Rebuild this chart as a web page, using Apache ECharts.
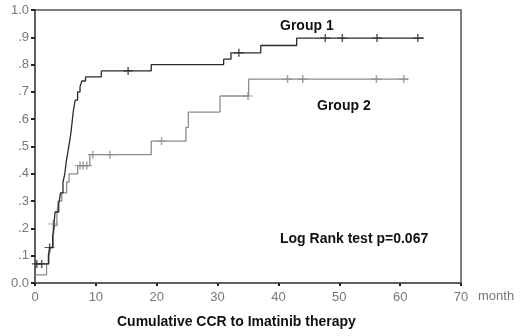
<!DOCTYPE html>
<html>
<head>
<meta charset="utf-8">
<script src="https://cdn.jsdelivr.net/npm/echarts@6/dist/echarts.min.js"></script>
<style>
  html, body { margin: 0; padding: 0; background: #fff; }
  #chart { width: 520px; height: 336px; }
</style>
</head>
<body>
<div id="chart"></div>
<script>
// Cumulative CCR curves (Kaplan-Meier style)
var xTicks = [0, 10, 20, 30, 40, 50, 60, 70];
var yLabels = ['0.0', '.1', '.2', '.3', '.4', '.5', '.6', '.7', '.8', '.9', '1.0'];

var group1Times  = [0, 2.2, 2.4, 2.9, 3.1, 3.3, 3.9, 4.2, 4.6, 4.9, 5.1, 5.4, 5.7, 5.9, 6.1, 6.3, 6.6, 7.0, 7.4, 7.7, 8.3, 10.9, 19.1, 31.0, 32.2, 37.1, 43.0, 63.9];
var group1Values = [.07, .10, .13, .17, .21, .26, .29, .33, .37, .40, .44, .48, .52, .55, .59, .63, .67, .70, .72, .74, .755, .777, .80, .82, .843, .87, .897, .897];
var group1CensorT = [0.3, 1.1, 2.4, 15.3, 33.5, 47.7, 50.5, 56.2, 62.9];
var group1CensorV = [.07, .07, .13, .777, .843, .897, .897, .897, .897];

var group2Times  = [0, 1.9, 2.3, 2.6, 3.0, 3.2, 3.6, 3.8, 4.4, 5.2, 5.6, 7.0, 9.0, 19.1, 24.8, 25.2, 30.4, 35.1, 61.3];
var group2Values = [.03, .07, .10, .13, .17, .21, .25, .30, .33, .37, .40, .43, .47, .52, .57, .626, .685, .747, .747];
var group2CensorT = [3.0, 7.4, 7.9, 8.5, 9.5, 12.3, 20.8, 35.0, 41.5, 44.0, 56.1, 60.6];
var group2CensorV = [.216, .43, .43, .43, .47, .47, .52, .685, .747, .747, .747, .747];

function pairs(xs, ys) {
    var out = [];
    for (var i = 0; i < xs.length; i++) out.push([xs[i], ys[i]]);
    return out;
}

var dark = '#2b2b2b';
var light = '#8c8c8c';
var axisGray = '#555';
var labelGray = '#777';
var fontName = '"Liberation Sans", Arial, sans-serif';
var cross = 'path://M0,4L10,4M5,0L5,8';

var chart = echarts.init(document.getElementById('chart'));
var option = {
    animation: false,
    backgroundColor: '#fff',
    grid: {
        left: 35, right: 59, top: 10, bottom: 53,
        show: true,
        borderColor: axisGray,
        borderWidth: 1.5
    },
    xAxis: {
        type: 'value',
        min: xTicks[0],
        max: xTicks[xTicks.length - 1],
        interval: 10,
        axisLine: { show: true, lineStyle: { color: axisGray, width: 1.5 } },
        axisTick: { show: true, length: 3, lineStyle: { color: '#222', width: 2 } },
        axisLabel: { color: labelGray, fontSize: 13, fontFamily: fontName, margin: 8 },
        splitLine: { show: false }
    },
    yAxis: {
        type: 'value',
        min: 0,
        max: 1,
        interval: 0.1,
        axisLine: { show: true, lineStyle: { color: axisGray, width: 1.5 } },
        axisTick: { show: true, length: 4, lineStyle: { color: '#222', width: 2 } },
        axisLabel: {
            color: labelGray, fontSize: 13, fontFamily: fontName, margin: 6,
            formatter: function (v) { return yLabels[Math.round(v * 10)]; }
        },
        splitLine: { show: false }
    },
    graphic: [
        { type: 'text', left: 280, top: 19, style: { text: 'Group 1', fontSize: 14, fontWeight: 'bold', fontFamily: fontName, fill: '#111' } },
        { type: 'text', left: 317, top: 99, style: { text: 'Group 2', fontSize: 14, fontWeight: 'bold', fontFamily: fontName, fill: '#111' } },
        { type: 'text', left: 280, top: 232, style: { text: 'Log Rank test p=0.067', fontSize: 14, fontWeight: 'bold', fontFamily: fontName, fill: '#111' } },
        { type: 'text', left: 478, top: 290, style: { text: 'month', fontSize: 13, fontFamily: fontName, fill: labelGray } },
        { type: 'text', left: 117, top: 315, style: { text: 'Cumulative CCR to Imatinib therapy', fontSize: 14, fontWeight: 'bold', fontFamily: fontName, fill: '#111' } }
    ],
    series: [
        {
            name: 'Group 2',
            type: 'line',
            step: 'end',
            symbol: 'none',
            data: pairs(group2Times, group2Values),
            lineStyle: { color: light, width: 1.3 }
        },
        {
            name: 'Group 1',
            type: 'line',
            step: 'end',
            symbol: 'none',
            data: pairs(group1Times, group1Values),
            lineStyle: { color: dark, width: 1.3 }
        },
        {
            name: 'Group 2 censored',
            type: 'scatter',
            symbol: cross,
            symbolSize: [10, 8],
            data: pairs(group2CensorT, group2CensorV),
            itemStyle: { color: 'none', borderColor: light, borderWidth: 1.3 }
        },
        {
            name: 'Group 1 censored',
            type: 'scatter',
            symbol: cross,
            symbolSize: [10, 8],
            data: pairs(group1CensorT, group1CensorV),
            itemStyle: { color: 'none', borderColor: dark, borderWidth: 1.3 }
        }
    ]
};
chart.setOption(option);
</script>
</body>
</html>
